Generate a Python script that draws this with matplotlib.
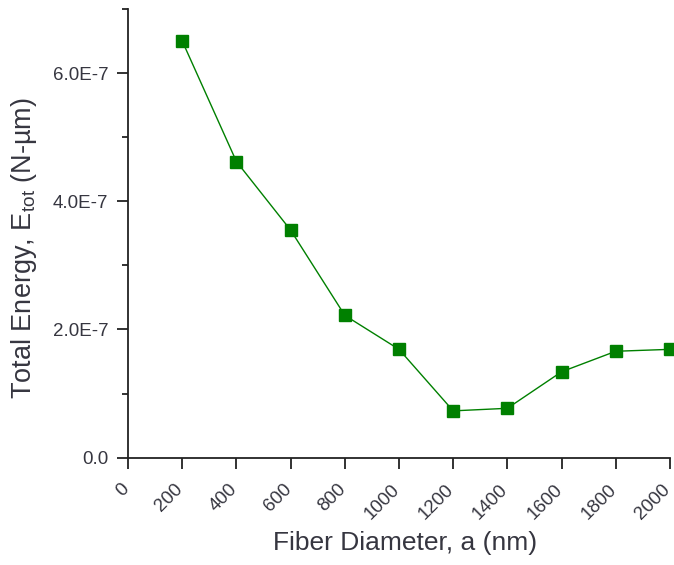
import matplotlib
matplotlib.use("Agg")
import matplotlib.pyplot as plt
import matplotlib.transforms as mtransforms
from matplotlib.ticker import MultipleLocator

diameter_nm = [200, 400, 600, 800, 1000, 1200, 1400, 1600, 1800, 2000]
energy = [6.50e-7, 4.62e-7, 3.55e-7, 2.22e-7, 1.69e-7, 7.3e-8, 7.7e-8, 1.34e-7, 1.66e-7, 1.69e-7]
x_ticks = [0, 200, 400, 600, 800, 1000, 1200, 1400, 1600, 1800, 2000]
y_ticks = [0.0, 2e-7, 4e-7, 6e-7]
y_tick_labels = ["0.0", "2.0E-7", "4.0E-7", "6.0E-7"]

plt.rcParams['font.family'] = ['Liberation Sans', 'DejaVu Sans']
plt.rcParams['mathtext.default'] = 'regular'

text_color = '#363640'
fig = plt.figure(figsize=(6.74, 5.65), dpi=100)
ax = fig.add_axes([0.19, 0.19, 0.804, 0.794])

ax.plot(diameter_nm, energy, color='#008000', lw=1.0, marker='s', ms=8,
        markerfacecolor='#008000', markeredgecolor='#008000', clip_on=False, zorder=3)

ax.set_xlim(0, 2000)
ax.set_ylim(0, 7e-7)
ax.spines['top'].set_visible(False)
ax.spines['right'].set_visible(False)
for s in ['left', 'bottom']:
    ax.spines[s].set_linewidth(1.3)
    ax.spines[s].set_color('#222222')

ax.set_xticks(x_ticks)
ax.set_xticklabels([str(v) for v in x_ticks], rotation=45, ha='right', va='center',
                   rotation_mode='anchor')
ax.set_yticks(y_ticks)
ax.set_yticklabels(y_tick_labels)
ax.yaxis.set_minor_locator(MultipleLocator(1e-7))
ax.tick_params(axis='both', which='major', direction='out', length=8, width=1.3,
               color='#222222', labelsize=13.5, labelcolor=text_color)
ax.tick_params(axis='x', which='major', pad=13)
ax.tick_params(axis='y', which='major', pad=6)
ax.tick_params(axis='y', which='minor', direction='out', length=4, width=1.3, color='#222222')

shift = mtransforms.ScaledTranslation(-0.02, 0, fig.dpi_scale_trans)
for lbl in ax.get_xticklabels():
    lbl.set_transform(lbl.get_transform() + shift)

ax.set_xlabel('Fiber Diameter, a (nm)', fontsize=19, color=text_color)
ax.set_ylabel('Total Energy, E$_{tot}$ (N-µm)', fontsize=19.5, color=text_color)
ax.xaxis.set_label_coords(0.511, -0.163)
ax.yaxis.set_label_coords(-0.165, 0.467)

fig.savefig('out.png', dpi=100)
